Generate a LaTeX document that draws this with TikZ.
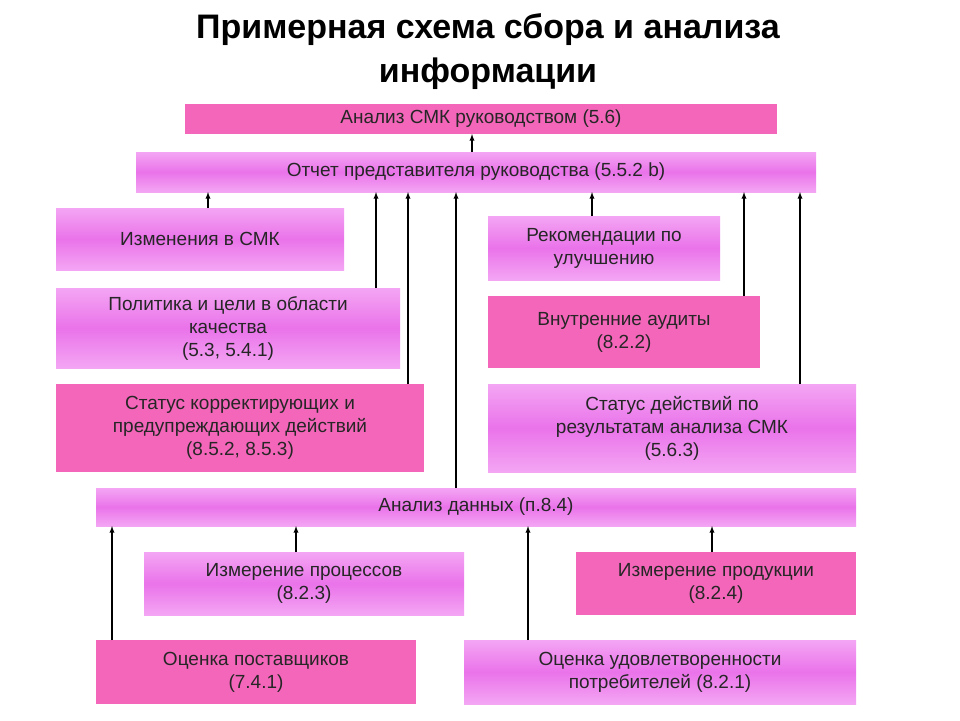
\documentclass[tikz,border=0pt]{standalone}
\usepackage{fontspec}
\setmainfont{Liberation Sans}
\begin{document}
\begin{tikzpicture}[x=1pt,y=-1pt,
 base/.style={anchor=north west,inner sep=0pt,outer sep=0pt,align=center,font=\fontsize{19}{23}\selectfont,text=black!85},
 solid/.style={base,fill=magenta!60!white},
 shd/.style={base,top color=violet!25!magenta!35!white,bottom color=violet!25!magenta!35!white,middle color=violet!30!magenta!55!white},
 arr/.style={-latex,line width=1.3pt}]
\useasboundingbox (0,0) rectangle (960,720);
\fill[white] (0,0) rectangle (960,720);
\node[font=\bfseries\fontsize{34}{44}\selectfont,align=center] (T) at (488,52) {Примерная схема сбора и анализа\\информации};
\node[solid,minimum width=592pt,minimum height=30pt] (A) at (185,104) {Анализ СМК руководством (5.6)};
\node[shd,minimum width=680pt,minimum height=40pt] (B) at (136,152) {Отчет представителя руководства (5.5.2 b)};
\node[shd,minimum width=288pt,minimum height=62pt] (C) at (56,208) {Изменения в СМК};
\node[shd,minimum width=344pt,minimum height=80pt] (D) at (56,288) {Политика и цели в области\\качества\\(5.3, 5.4.1)};
\node[solid,minimum width=368pt,minimum height=88pt] (E) at (56,384) {Статус корректирующих и\\предупреждающих действий\\(8.5.2, 8.5.3)};
\node[shd,minimum width=232pt,minimum height=64pt] (F) at (488,216) {Рекомендации по\\улучшению};
\node[solid,minimum width=272pt,minimum height=72pt] (G) at (488,296) {Внутренние аудиты\\(8.2.2)};
\node[shd,minimum width=368pt,minimum height=88pt] (H) at (488,384) {Статус действий по\\результатам анализа СМК\\(5.6.3)};
\node[shd,minimum width=760pt,minimum height=38pt] (I) at (96,488) {Анализ данных (п.8.4)};
\node[shd,minimum width=320pt,minimum height=63pt] (J) at (144,552) {Измерение процессов\\(8.2.3)};
\node[solid,minimum width=280pt,minimum height=63pt] (K) at (576,552) {Измерение продукции\\(8.2.4)};
\node[solid,minimum width=320pt,minimum height=64pt] (L) at (96,640) {Оценка поставщиков\\(7.4.1)};
\node[shd,minimum width=392pt,minimum height=64pt] (M) at (464,640) {Оценка удовлетворенности\\потребителей (8.2.1)};
\draw[arr] (B.north -| 472,0) -- (A.south -| 472,0);
\draw[arr] (C.north -| 208,0) -- (B.south -| 208,0);
\draw[arr] (D.north -| 376,0) -- (B.south -| 376,0);
\draw[arr] (E.north -| 408,0) -- (B.south -| 408,0);
\draw[arr] (I.north -| 456,0) -- (B.south -| 456,0);
\draw[arr] (F.north -| 592,0) -- (B.south -| 592,0);
\draw[arr] (G.north -| 744,0) -- (B.south -| 744,0);
\draw[arr] (H.north -| 800,0) -- (B.south -| 800,0);
\draw[arr] (J.north -| 296,0) -- (I.south -| 296,0);
\draw[arr] (L.north -| 112,0) -- (I.south -| 112,0);
\draw[arr] (M.north -| 528,0) -- (I.south -| 528,0);
\draw[arr] (K.north -| 712,0) -- (I.south -| 712,0);
\end{tikzpicture}
\end{document}
